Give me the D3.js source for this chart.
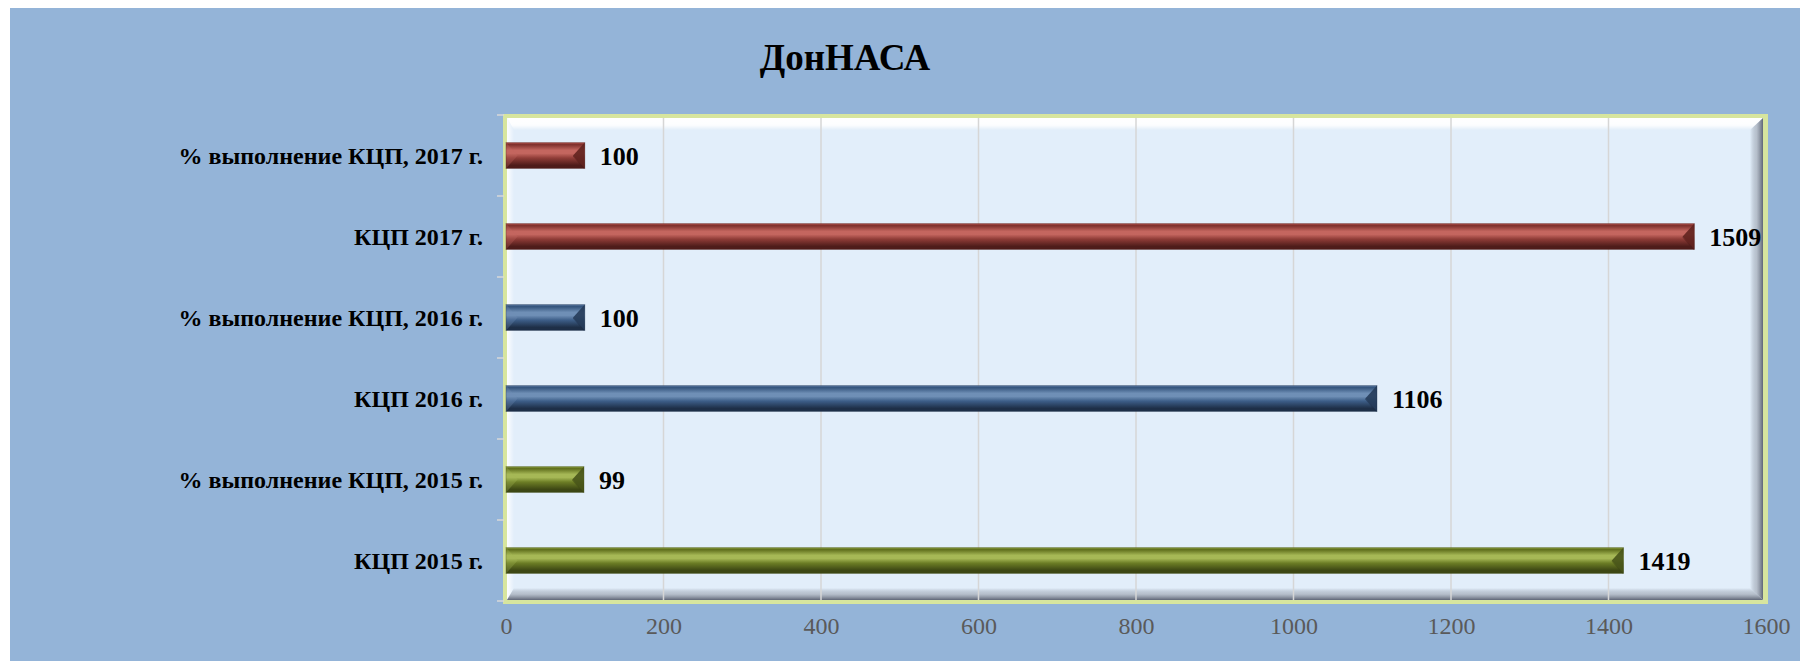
<!DOCTYPE html>
<html>
<head>
<meta charset="utf-8">
<script src="https://cdn.jsdelivr.net/npm/d3@7/dist/d3.min.js"></script>
<style>
html,body{margin:0;padding:0;background:#ffffff;}
svg{display:block;}
text{font-family:"Liberation Serif","Times New Roman",serif;}
</style>
</head>
<body>
<svg id="chart" width="1800" height="661"></svg>
<script>
// ---- data (top of list = top of chart) ----
const categories = [
  "% выполнение КЦП, 2017 г.",
  "КЦП 2017 г.",
  "% выполнение КЦП, 2016 г.",
  "КЦП 2016 г.",
  "% выполнение КЦП, 2015 г.",
  "КЦП 2015 г."
];
const values = [100, 1509, 100, 1106, 99, 1419];
const colorKeys = ["red", "red", "blue", "blue", "olive", "olive"];
const xTicks = [0, 200, 400, 600, 800, 1000, 1200, 1400, 1600];
const title = "ДонНАСА";

const palettes = {
  red:   {top:"#7e302c", hi:"#c4665f", mid:"#8f3c37", bot:"#4e1c1a", end:"#62241f", edge:"#b0504a"},
  blue:  {top:"#34547c", hi:"#6f8fb6", mid:"#3d5e88", bot:"#1e2f47", end:"#263c5a", edge:"#5a7aa2"},
  olive: {top:"#5f6e1c", hi:"#a6b856", mid:"#6c7d25", bot:"#3d4714", end:"#48541a", edge:"#8c9e3e"}
};

const svg = d3.select("#chart");
const defs = svg.append("defs");

// background
svg.append("rect").attr("x", 10).attr("y", 8).attr("width", 1790).attr("height", 653).attr("fill", "#94b4d8");

// title
svg.append("text").attr("x", 845).attr("y", 70).attr("text-anchor", "middle")
  .attr("font-size", 37).attr("font-weight", "bold").attr("fill", "#000").text(title);

// scales
const x = d3.scaleLinear().domain([0, 1600]).range([506, 1766]);
const y = d3.scaleBand().domain(categories).range([115, 601]).paddingInner(0.68).paddingOuter(0.34);

// plot frame
const outer = {x0: 503, y0: 114, x1: 1768, y1: 604};
const bw = 4;
const inner = {x0: outer.x0 + bw, y0: outer.y0 + bw, x1: outer.x1 - bw - 1, y1: outer.y1 - bw};
svg.append("rect").attr("x", outer.x0).attr("y", outer.y0)
  .attr("width", outer.x1 - outer.x0).attr("height", outer.y1 - outer.y0).attr("fill", "#d7e59e");
svg.append("rect").attr("x", inner.x0).attr("y", inner.y0)
  .attr("width", inner.x1 - inner.x0).attr("height", inner.y1 - inner.y0).attr("fill", "#e2eefa");

// bevel gradients
function lg(id, x1, y1, x2, y2, stops) {
  const g = defs.append("linearGradient").attr("id", id)
    .attr("x1", x1).attr("y1", y1).attr("x2", x2).attr("y2", y2);
  stops.forEach(s => g.append("stop").attr("offset", s[0]).attr("stop-color", s[1]).attr("stop-opacity", s[2]));
}
lg("bvTop", 0, 0, 0, 1, [[0, "#ffffff", 1], [0.6, "#ffffff", 0.9], [1, "#ffffff", 0]]);
lg("bvLeft", 0, 0, 1, 0, [[0, "#ffffff", 0.9], [1, "#ffffff", 0]]);
lg("bvRight", 0, 0, 1, 0, [[0, "#6c7483", 0], [0.5, "#9aa1ad", 0.6], [1, "#5f6676", 1]]);
lg("bvBot", 0, 0, 0, 1, [[0, "#6c7483", 0], [0.5, "#9aa1ad", 0.6], [1, "#5f6676", 1]]);
const bt = 12, bl = 7, br = 13, bb = 12;
const I = inner;
svg.append("polygon").attr("fill", "url(#bvTop)")
  .attr("points", [[I.x0, I.y0], [I.x1, I.y0], [I.x1 - br, I.y0 + bt], [I.x0 + bl, I.y0 + bt]].join(" "));
svg.append("polygon").attr("fill", "url(#bvLeft)")
  .attr("points", [[I.x0, I.y0], [I.x0 + bl, I.y0 + bt], [I.x0 + bl, I.y1 - bb], [I.x0, I.y1]].join(" "));
svg.append("polygon").attr("fill", "url(#bvRight)")
  .attr("points", [[I.x1, I.y0], [I.x1, I.y1], [I.x1 - br, I.y1 - bb], [I.x1 - br, I.y0 + bt]].join(" "));
svg.append("polygon").attr("fill", "url(#bvBot)")
  .attr("points", [[I.x0, I.y1], [I.x1, I.y1], [I.x1 - br, I.y1 - bb], [I.x0 + bl, I.y1 - bb]].join(" "));

// gridlines
svg.append("g").selectAll("line").data(xTicks.filter(t => t > 0 && t < 1600)).join("line")
  .attr("x1", d => x(d)).attr("x2", d => x(d))
  .attr("y1", inner.y0).attr("y2", inner.y1)
  .attr("stroke", "#d6d6d6").attr("stroke-width", 1.5);

// category tick marks at band boundaries
const bounds = d3.range(categories.length + 1).map(i => y.range()[0] + i * y.step());
svg.append("g").selectAll("line").data(bounds).join("line")
  .attr("x1", 497).attr("x2", 504).attr("y1", d => d).attr("y2", d => d)
  .attr("stroke", "#d9d9d9").attr("stroke-width", 1.5);

// bar gradients
Object.entries(palettes).forEach(([k, p]) => {
  lg("bar_" + k, 0, 0, 0, 1, [
    [0, p.edge, 1], [0.08, p.top, 1], [0.3, p.hi, 1], [0.42, p.hi, 1],
    [0.6, p.mid, 1], [0.88, p.bot, 1], [1, p.bot, 1]
  ]);
});

const bars = svg.append("g");
categories.forEach((c, i) => {
  const p = palettes[colorKeys[i]];
  const x0 = x(0), x1 = x(values[i]);
  const y0 = y(c), h = y.bandwidth(), y1 = y0 + h;
  const ch = h / 2;
  const g = bars.append("g");
  g.append("rect").attr("x", x0).attr("y", y0).attr("width", x1 - x0).attr("height", h)
    .attr("fill", "url(#bar_" + colorKeys[i] + ")");
  // right chamfer face
  g.append("polygon").attr("fill", p.end).attr("opacity", 0.9)
    .attr("points", [[x1, y0], [x1, y1], [x1 - ch * 0.9, y0 + ch]].join(" "));
  g.append("polygon").attr("fill", p.bot).attr("opacity", 0.6)
    .attr("points", [[x1, y1], [x1 - ch * 0.9, y0 + ch], [x1 - ch * 0.9, y0 + ch + 1], [x1 - 1, y1]].join(" "));
  // left chamfer face
  g.append("polygon").attr("fill", p.hi).attr("opacity", 0.3)
    .attr("points", [[x0, y0], [x0 + ch * 0.9, y0 + ch], [x0, y1]].join(" "));
  g.append("rect").attr("x", x0).attr("y", y0).attr("width", x1 - x0).attr("height", h)
    .attr("fill", "none").attr("stroke", p.bot).attr("stroke-opacity", 0.35).attr("stroke-width", 1);
  // value label
  g.append("text").attr("x", x1 + 15).attr("y", y0 + h / 2).attr("dy", "0.35em")
    .attr("font-size", 26).attr("font-weight", "bold").attr("fill", "#000").text(values[i]);
});

// category labels
svg.append("g").selectAll("text").data(categories).join("text")
  .attr("x", 483).attr("y", d => y(d) + y.bandwidth() / 2).attr("dy", "0.35em")
  .attr("text-anchor", "end").attr("font-size", 24).attr("font-weight", "bold").attr("fill", "#000")
  .text(d => d);

// x axis
const xAxis = svg.append("g").attr("transform", "translate(0,612)")
  .call(d3.axisBottom(x).tickValues(xTicks).tickSize(0).tickPadding(0).tickFormat(d3.format("d")));
xAxis.select(".domain").remove();
xAxis.selectAll("text").attr("font-size", 24).attr("fill", "#5a5a5a")
  .attr("font-family", "'Liberation Serif','Times New Roman',serif").attr("dy", "0.71em").attr("y", 5);
</script>
</body>
</html>
